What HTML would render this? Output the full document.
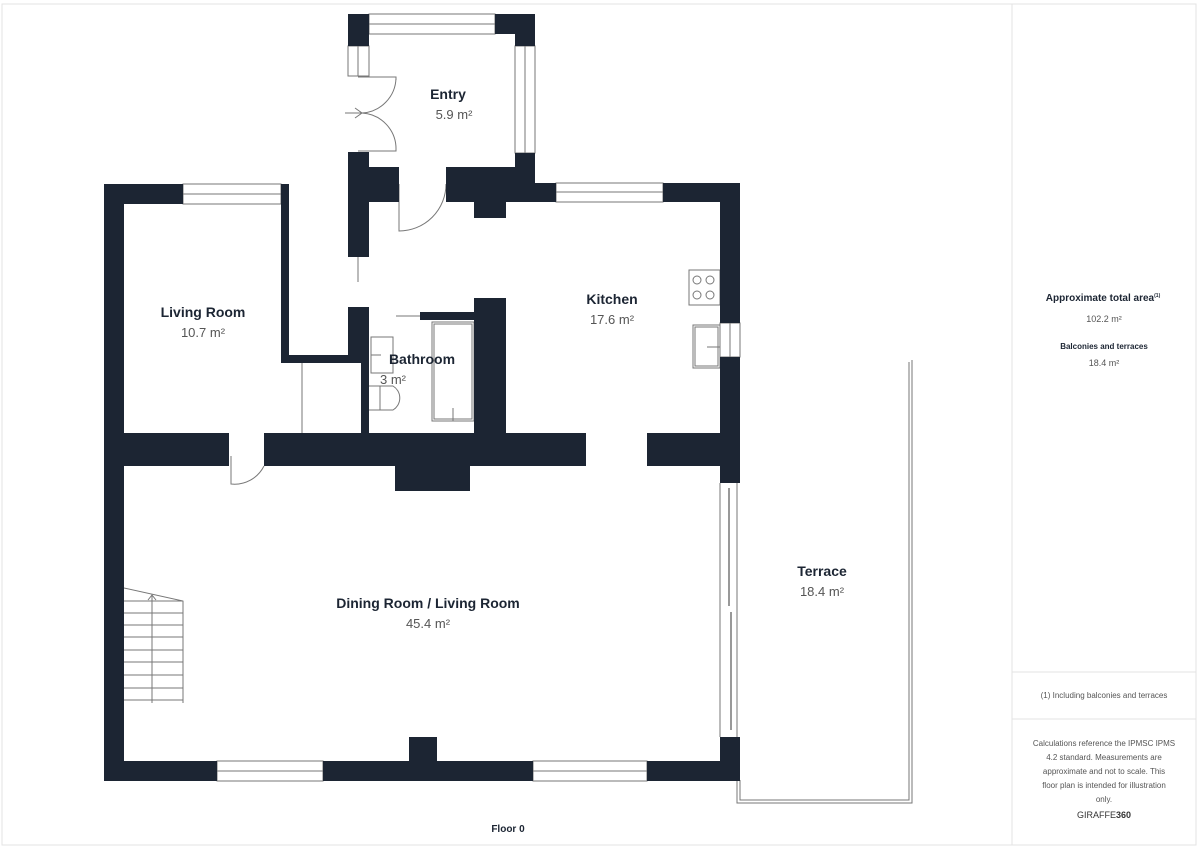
<!DOCTYPE html>
<html><head><meta charset="utf-8"><style>
html,body{margin:0;padding:0;background:#fff;}
svg{display:block;font-family:"Liberation Sans",sans-serif;}
.b{font-weight:bold;fill:#1c2533;font-size:14px;text-anchor:middle}
.a{fill:#555;font-size:13px;text-anchor:middle}
.s{font-size:8px;fill:#555;text-anchor:middle}
</style></head><body>
<svg width="1200" height="849" viewBox="0 0 1200 849" xmlns="http://www.w3.org/2000/svg">
<rect x="2" y="4" width="1194" height="841" fill="none" stroke="#e3e3e3"/>
<line x1="1012" y1="4" x2="1012" y2="845" stroke="#e3e3e3"/>
<line x1="1012" y1="672" x2="1196" y2="672" stroke="#e3e3e3"/>
<line x1="1012" y1="719" x2="1196" y2="719" stroke="#e3e3e3"/>

<g fill="none" stroke="#777" stroke-width="1">
<!-- windows -->
<rect x="369" y="14" width="126" height="20"/><line x1="369" y1="24" x2="495" y2="24"/>
<rect x="515" y="46" width="20" height="107"/><line x1="525" y1="46" x2="525" y2="153"/>
<rect x="348" y="46" width="21" height="30"/><line x1="358" y1="46" x2="358" y2="76"/>
<rect x="556" y="183" width="107" height="19"/><line x1="556" y1="192" x2="663" y2="192"/>
<rect x="720" y="323" width="20" height="34"/><line x1="730" y1="323" x2="730" y2="357"/>
<rect x="183" y="184" width="98" height="20"/><line x1="183" y1="194" x2="281" y2="194"/>
<rect x="217" y="761" width="106" height="20"/><line x1="217" y1="771" x2="323" y2="771"/>
<rect x="533" y="761" width="114" height="20"/><line x1="533" y1="771" x2="647" y2="771"/>
<!-- doors -->
<path d="M358 77 H396 V80 M396 78 A36 36 0 0 1 362 113"/>
<path d="M358 151 H396 V148 M396 150 A36 36 0 0 0 362 113"/>
<path d="M345 113 H362 M355 108 L362 113 L355 118"/>
<path d="M399 184 v47 A47 47 0 0 0 446 184"/>
<line x1="358" y1="257" x2="358" y2="282"/>
<path d="M231 466 v18 A33 33 0 0 0 264 466 M231 466 v-10"/>
<line x1="302" y1="363" x2="302" y2="433"/>
<line x1="396" y1="316" x2="420" y2="316"/>
<!-- bathroom fixtures -->
<rect x="371" y="337" width="22" height="36"/><line x1="371" y1="355" x2="381" y2="355"/>
<path d="M369 386 h24 a14 14 0 0 1 0 24 h-24 M380 386 v24"/>
<rect x="432" y="322" width="42" height="99"/><rect x="434" y="324" width="38" height="95"/><line x1="453" y1="408" x2="453" y2="421"/>
<!-- kitchen -->
<rect x="689" y="270" width="31" height="35"/>
<circle cx="697" cy="280" r="4"/><circle cx="710" cy="280" r="4"/><circle cx="697" cy="295" r="4"/><circle cx="710" cy="295" r="4"/>
<rect x="693" y="325" width="27" height="43"/><rect x="695" y="327" width="23" height="39"/><line x1="707" y1="347" x2="720" y2="347"/>
<!-- sliding doors -->
<line x1="720" y1="483" x2="720" y2="737"/><line x1="737" y1="483" x2="737" y2="737"/>
<line x1="729" y1="488" x2="729" y2="606" stroke="#999" stroke-width="2"/>
<line x1="731" y1="612" x2="731" y2="730" stroke="#999" stroke-width="2"/>
<!-- terrace -->
<path d="M737 780 V803 H912 V360" stroke-width="1"/>
<path d="M740 780 V800 H909 V362"/>
<!-- stairs -->
<path d="M124 588 L183 601 V703 M124 601 H183"/>
<line x1="152" y1="594" x2="152" y2="703"/>
<g>
<line x1="124" y1="613" x2="183" y2="613"/><line x1="124" y1="625" x2="183" y2="625"/><line x1="124" y1="637" x2="183" y2="637"/><line x1="124" y1="650" x2="183" y2="650"/><line x1="124" y1="662" x2="183" y2="662"/><line x1="124" y1="675" x2="183" y2="675"/><line x1="124" y1="688" x2="183" y2="688"/><line x1="124" y1="700" x2="183" y2="700"/>
</g>
<path d="M148 600 l4 -5 l4 5"/>
</g>

<g fill="#1c2533">
<rect x="348" y="14" width="21" height="32"/>
<rect x="495" y="14" width="40" height="20"/><rect x="515" y="14" width="20" height="32"/>
<rect x="515" y="153" width="20" height="30"/>
<rect x="348" y="152" width="21" height="105"/>
<rect x="369" y="167" width="30" height="35"/>
<rect x="446" y="167" width="89" height="35"/><rect x="535" y="183" width="21" height="19"/>
<rect x="474" y="202" width="32" height="16"/>
<rect x="663" y="183" width="77" height="19"/>
<rect x="720" y="183" width="20" height="140"/>
<rect x="720" y="357" width="20" height="126"/>
<rect x="720" y="737" width="20" height="44"/>
<rect x="104" y="184" width="79" height="20"/>
<rect x="104" y="184" width="20" height="597"/>
<rect x="281" y="184" width="8" height="179"/>
<rect x="281" y="355" width="80" height="8"/>
<rect x="348" y="307" width="21" height="48"/>
<rect x="361" y="355" width="8" height="78"/>
<rect x="420" y="312" width="54" height="8"/>
<rect x="474" y="298" width="32" height="135"/>
<rect x="104" y="433" width="125" height="33"/>
<rect x="264" y="433" width="322" height="33"/>
<rect x="647" y="433" width="93" height="33"/>
<rect x="395" y="466" width="75" height="25"/>
<rect x="104" y="761" width="113" height="20"/>
<rect x="323" y="761" width="210" height="20"/>
<rect x="409" y="737" width="28" height="24"/>
<rect x="647" y="761" width="93" height="20"/>
</g>

<text x="448" y="99" class="b">Entry</text><text x="454" y="119" class="a">5.9 m²</text>
<text x="612" y="304" class="b">Kitchen</text><text x="612" y="324" class="a">17.6 m²</text>
<text x="203" y="317" class="b">Living Room</text><text x="203" y="337" class="a">10.7 m²</text>
<text x="422" y="364" class="b">Bathroom</text><text x="393" y="384" class="a">3 m²</text>
<text x="428" y="608" class="b">Dining Room / Living Room</text><text x="428" y="628" class="a">45.4 m²</text>
<text x="822" y="576" class="b">Terrace</text><text x="822" y="596" class="a">18.4 m²</text>
<text x="508" y="832" class="b" style="font-size:10px">Floor 0</text>

<text x="1103" y="301" class="b" style="font-size:10px">Approximate total area<tspan font-size="5" dy="-4">(1)</tspan></text>
<text x="1104" y="322" class="a" style="font-size:9px">102.2 m²</text>
<text x="1104" y="349" class="b" style="font-size:8px">Balconies and terraces</text>
<text x="1104" y="366" class="a" style="font-size:9px">18.4 m²</text>
<text x="1104" y="698" class="s">(1) Including balconies and terraces</text>
<text x="1104" y="746" class="s">Calculations reference the IPMSC IPMS</text>
<text x="1104" y="760" class="s">4.2 standard. Measurements are</text>
<text x="1104" y="774" class="s">approximate and not to scale. This</text>
<text x="1104" y="788" class="s">floor plan is intended for illustration</text>
<text x="1104" y="802" class="s">only.</text>
<text x="1104" y="818" class="s" style="font-size:9px;fill:#333">GIRAFFE<tspan font-weight="bold">360</tspan></text>
</svg>
</body></html>
